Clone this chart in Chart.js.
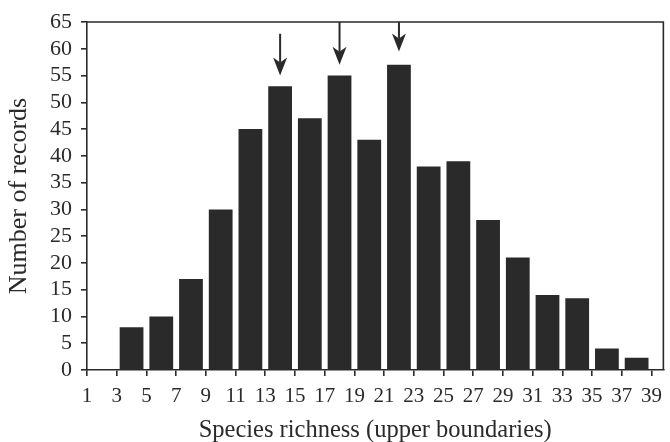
<!DOCTYPE html>
<html>
<head>
<meta charset="utf-8">
<script src="https://cdn.jsdelivr.net/npm/chart.js@4/dist/chart.umd.min.js"></script>
<style>
html,body{margin:0;padding:0;background:#fff;}
#wrap{width:670px;height:442px;position:relative;}
</style>
</head>
<body>
<div id="wrap"><canvas id="c" width="670" height="442"></canvas></div>
<script>
// Data
const binCenters = [4, 6, 8, 10, 12, 14, 16, 18, 20, 22, 24, 26, 28, 30, 32, 34, 36, 38];
const recordCounts = [8, 10, 17, 30, 45, 53, 47, 55, 43, 57, 38, 39, 28, 21, 14, 13.4, 4, 2.3];
const xTickLabels = [1, 3, 5, 7, 9, 11, 13, 15, 17, 19, 21, 23, 25, 27, 29, 31, 33, 35, 37, 39];
const yTickLabels = [0, 5, 10, 15, 20, 25, 30, 35, 40, 45, 50, 55, 60, 65];
const arrowX = [14, 18, 22];
const arrowFrom = [62.8, 65, 65];
const arrowTo = [55, 57, 59.5];

const ink = '#2a2a2a';
const serif = "'Liberation Serif', 'Times New Roman', serif";

const framePlugin = {
  id: 'frame',
  afterDatasetsDraw(chart) {
    const ctx = chart.ctx, a = chart.chartArea;
    const xs = chart.scales.x, ys = chart.scales.y;
    ctx.save();
    ctx.strokeStyle = ink;
    ctx.lineWidth = 1.6;
    ctx.beginPath();
    ctx.moveTo(a.left, a.top);
    ctx.lineTo(a.right, a.top);
    ctx.lineTo(a.right, a.bottom);
    ctx.stroke();
    // arrows
    ctx.fillStyle = ink;
    for (let i = 0; i < arrowX.length; i++) {
      const px = xs.getPixelForValue(arrowX[i]);
      const y0 = ys.getPixelForValue(arrowFrom[i]);
      const y1 = ys.getPixelForValue(arrowTo[i]);
      const headLen = 18, halfW = 7, notch = 5;
      ctx.lineWidth = 2;
      ctx.beginPath();
      ctx.moveTo(px, y0);
      ctx.lineTo(px, y1 - headLen + notch);
      ctx.stroke();
      ctx.beginPath();
      ctx.moveTo(px, y1);
      ctx.lineTo(px - halfW, y1 - headLen);
      ctx.lineTo(px, y1 - headLen + notch);
      ctx.lineTo(px + halfW, y1 - headLen);
      ctx.closePath();
      ctx.fill();
    }
    ctx.restore();
  }
};

new Chart(document.getElementById('c'), {
  type: 'bar',
  data: {
    datasets: [{
      data: binCenters.map((x, i) => ({ x: x, y: recordCounts[i] })),
      backgroundColor: ink,
      borderWidth: 0,
      barPercentage: 0.8,
      categoryPercentage: 1.0
    }]
  },
  options: {
    responsive: false,
    animation: false,
    devicePixelRatio: 1,
    layout: { padding: { top: 22, right: 1, left: 0, bottom: 0 } },
    plugins: { legend: { display: false }, tooltip: { enabled: false } },
    scales: {
      x: {
        type: 'linear',
        offset: false,
        min: 1,
        max: 39.8,
        afterBuildTicks: (s) => { s.ticks = xTickLabels.map(v => ({ value: v })); },
        afterFit: (s) => { s.height = 72; },
        grid: { offset: false, drawOnChartArea: false, drawTicks: true, tickLength: 6, color: ink, lineWidth: 1.6 },
        border: { display: true, color: ink, width: 1.6 },
        ticks: { color: ink, font: { family: serif, size: 21 }, padding: 8, maxRotation: 0, autoSkip: false },
        title: { display: true, text: 'Species richness (upper boundaries)', color: ink, font: { family: serif, size: 24.5 }, padding: { top: 0, bottom: -3 } }
      },
      y: {
        min: 0,
        max: 65,
        afterBuildTicks: (s) => { s.ticks = yTickLabels.map(v => ({ value: v })); },
        afterFit: (s) => { s.width = 87; },
        grid: { drawOnChartArea: false, drawTicks: true, tickLength: 6, color: ink, lineWidth: 1.6 },
        border: { display: true, color: ink, width: 1.6 },
        ticks: { color: ink, font: { family: serif, size: 22, lineHeight: 1 }, padding: 9, autoSkip: false },
        title: { display: true, text: 'Number of records', color: ink, font: { family: serif, size: 26 }, padding: { top: 4, bottom: 0 } }
      }
    }
  },
  plugins: [framePlugin]
});
</script>
</body>
</html>
